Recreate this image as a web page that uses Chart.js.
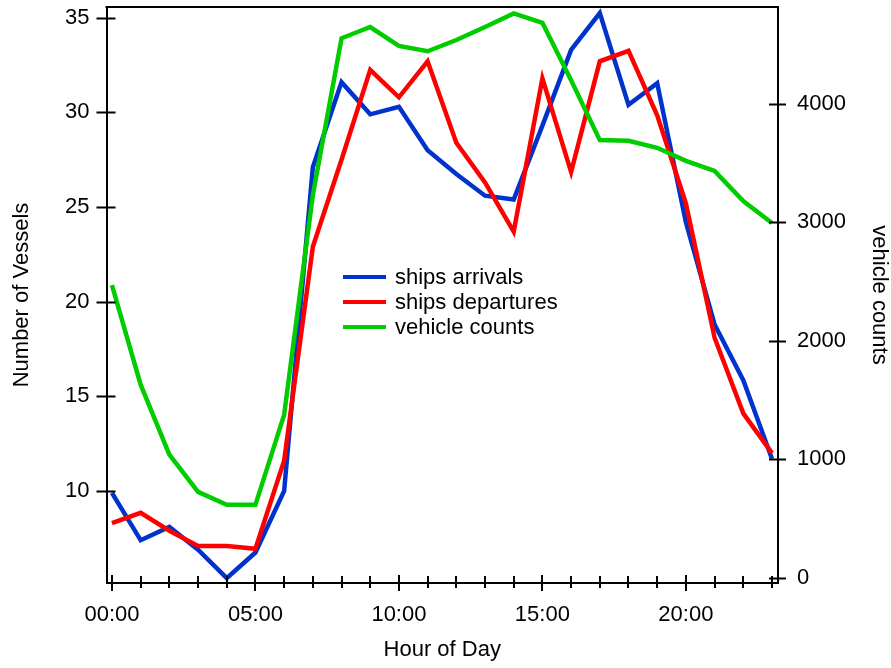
<!DOCTYPE html>
<html>
<head>
<meta charset="utf-8">
<title>Vessels and vehicle counts by hour</title>
<script src="https://cdn.jsdelivr.net/npm/chart.js@4/dist/chart.umd.min.js"></script>
<style>
    html, body { margin: 0; padding: 0; background: #fff; }
    #wrap { width: 891px; height: 668px; }
</style>
</head>
<body>
<div id="wrap"><canvas id="vesselChart" width="891" height="668"></canvas></div>
<script>
// Hourly data
const hours = [0, 1, 2, 3, 4, 5, 6, 7, 8, 9, 10, 11, 12, 13, 14, 15, 16, 17, 18, 19, 20, 21, 22, 23];
const arrivals = [9.9, 7.4, 8.1, 6.9, 5.4, 6.75, 10.0, 27.1, 31.6, 29.9, 30.3, 28.0, 26.75, 25.6, 25.4, 29.3, 33.3, 35.25, 30.4, 31.55, 24.2, 18.8, 15.85, 11.7];
const departures = [8.3, 8.85, 7.9, 7.1, 7.1, 6.95, 11.6, 22.9, 27.5, 32.25, 30.8, 32.7, 28.4, 26.3, 23.7, 31.8, 26.85, 32.7, 33.25, 29.85, 25.2, 18.1, 14.1, 12.0];
const vehicles = [2470, 1630, 1040, 725, 615, 615, 1375, 3230, 4555, 4650, 4490, 4445, 4540, 4650, 4765, 4685, 4200, 3695, 3690, 3630, 3520, 3435, 3180, 2995];

const seriesNames = ['ships arrivals', 'ships departures', 'vehicle counts'];
const seriesColors = ['#0033cc', '#ff0000', '#00cc00'];

const vesselTicks = [10, 15, 20, 25, 30, 35];
const vehicleTicks = [0, 1000, 2000, 3000, 4000];
const majorHours = [0, 5, 10, 15, 20];
const hourLabels = ['00:00', '05:00', '10:00', '15:00', '20:00'];

const FONT = { family: "'Liberation Sans', Arial, sans-serif", size: 22 };
const TITLE_FONT = { family: "'Liberation Sans', Arial, sans-serif", size: 22, lineHeight: 1 };

function toPoints(values) {
    return hours.map((h, i) => ({ x: h, y: values[i] }));
}

// stop Chart.js from reserving room for half-labels at the axis ends
function noEndPadding(s) {
    s.paddingTop = 0;
    s.paddingBottom = 0;
    s.paddingLeft = 0;
    s.paddingRight = 0;
}

// Igor-style frame: top line plus ticks that cross the axis lines
const framePlugin = {
    id: 'frame',
    afterDraw(chart) {
        const { ctx, chartArea, scales } = chart;
        ctx.save();
        ctx.strokeStyle = '#000';
        ctx.lineWidth = 2;
        ctx.beginPath();
        ctx.moveTo(chartArea.left - 1, chartArea.top);
        ctx.lineTo(chartArea.right + 1, chartArea.top);

        scales.y.ticks.forEach(t => {
            const y = Math.round(scales.y.getPixelForValue(t.value)) + 0.5;
            ctx.moveTo(chartArea.left - 10, y);
            ctx.lineTo(chartArea.left + 9, y);
        });
        scales.y1.ticks.forEach(t => {
            const y = Math.round(scales.y1.getPixelForValue(t.value)) + 0.5;
            ctx.moveTo(chartArea.right - 9, y);
            ctx.lineTo(chartArea.right + 8, y);
        });
        scales.x.ticks.forEach(t => {
            const x = Math.round(scales.x.getPixelForValue(t.value));
            const major = majorHours.includes(t.value);
            ctx.moveTo(x, chartArea.bottom - (major ? 8 : 7));
            ctx.lineTo(x, chartArea.bottom + (major ? 8 : 5));
        });
        ctx.stroke();
        ctx.restore();
    }
};

// Legend drawn inside the plot area
const legendPlugin = {
    id: 'innerLegend',
    afterDraw(chart) {
        const { ctx } = chart;
        const x0 = 343, x1 = 386, tx = 395, y0 = 277, gap = 25;
        ctx.save();
        ctx.font = `${FONT.size}px ${FONT.family}`;
        ctx.textBaseline = 'middle';
        ctx.fillStyle = '#000';
        chart.data.datasets.forEach((ds, i) => {
            const y = y0 + i * gap;
            ctx.strokeStyle = ds.borderColor;
            ctx.lineWidth = 4;
            ctx.beginPath();
            ctx.moveTo(x0, y);
            ctx.lineTo(x1, y);
            ctx.stroke();
            ctx.fillText(ds.label, tx, y + 1);
        });
        ctx.restore();
    }
};

const ctx = document.getElementById('vesselChart');

new Chart(ctx, {
    type: 'line',
    data: {
        datasets: [
            {
                label: seriesNames[0],
                data: toPoints(arrivals),
                borderColor: seriesColors[0],
                yAxisID: 'y',
                order: 3
            },
            {
                label: seriesNames[1],
                data: toPoints(departures),
                borderColor: seriesColors[1],
                yAxisID: 'y',
                order: 2
            },
            {
                label: seriesNames[2],
                data: toPoints(vehicles),
                borderColor: seriesColors[2],
                yAxisID: 'y1',
                order: 1
            }
        ]
    },
    options: {
        responsive: false,
        animation: false,
        devicePixelRatio: 1,
        layout: { padding: { top: 7, left: 0, right: 0, bottom: 0 } },
        elements: {
            line: { borderWidth: 4.5, tension: 0, borderJoinStyle: 'miter', borderCapStyle: 'butt' },
            point: { radius: 0, hoverRadius: 0 }
        },
        plugins: {
            legend: { display: false },
            tooltip: { enabled: false }
        },
        scales: {
            x: {
                type: 'linear',
                min: -0.19,
                max: 23.21,
                afterBuildTicks: s => { s.ticks = hours.map(v => ({ value: v })); },
                afterFit: s => { s.height = 85; noEndPadding(s); },
                grid: { drawOnChartArea: false, color: 'rgba(0,0,0,0)', tickLength: 8 },
                border: { color: '#000', width: 2 },
                ticks: {
                    autoSkip: false,
                    maxRotation: 0,
                    padding: 11,
                    color: '#000',
                    font: FONT,
                    callback: v => {
                        const i = majorHours.indexOf(v);
                        return i >= 0 ? hourLabels[i] : '';
                    }
                },
                title: {
                    display: true,
                    text: 'Hour of Day',
                    color: '#000',
                    font: TITLE_FONT,
                    padding: { top: 0, bottom: 7 }
                }
            },
            y: {
                type: 'linear',
                position: 'left',
                min: 5.14,
                max: 35.57,
                afterBuildTicks: s => { s.ticks = vesselTicks.map(v => ({ value: v })); },
                afterFit: s => { s.width = 106.5; noEndPadding(s); },
                grid: { drawOnChartArea: false, color: 'rgba(0,0,0,0)', tickLength: 10 },
                border: { color: '#000', width: 2 },
                ticks: { padding: 7, color: '#000', font: FONT },
                title: {
                    display: true,
                    text: 'Number of Vessels',
                    color: '#000',
                    font: TITLE_FONT,
                    padding: { top: 11, bottom: 0 }
                }
            },
            y1: {
                type: 'linear',
                position: 'right',
                min: -45,
                max: 4819,
                afterBuildTicks: s => { s.ticks = vehicleTicks.map(v => ({ value: v })); },
                afterFit: s => { s.width = 113; noEndPadding(s); },
                grid: { drawOnChartArea: false, color: 'rgba(0,0,0,0)', tickLength: 8 },
                border: { color: '#000', width: 2 },
                ticks: { padding: 11, color: '#000', font: FONT, callback: v => String(v) },
                title: {
                    display: true,
                    text: 'vehicle counts',
                    color: '#000',
                    font: TITLE_FONT,
                    padding: { top: 1, bottom: 0 }
                }
            }
        }
    },
    plugins: [framePlugin, legendPlugin]
});
</script>
</body>
</html>
